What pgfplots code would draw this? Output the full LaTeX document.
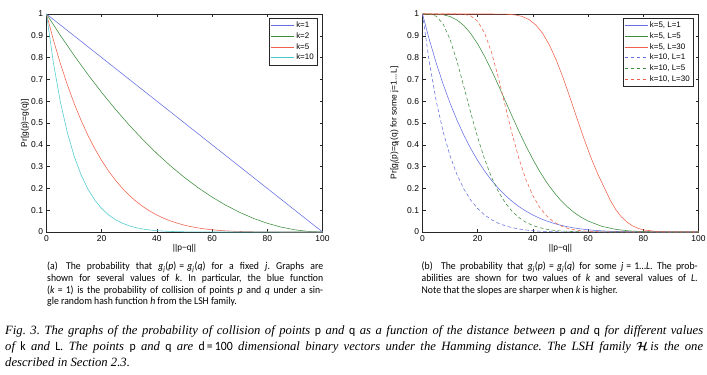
\documentclass[border=0pt]{standalone}
\usepackage{amsmath}
\usepackage{fontspec}
\usepackage{pgfplots}
\pgfplotsset{compat=1.18}
\setmainfont{Carlito}
\newfontfamily\capfont[FakeStretch=0.93]{Carlito}
\newfontfamily\axisfont{Liberation Sans}
\newfontfamily\figfont{Liberation Serif}
\definecolor{mblue}{RGB}{100,110,225}
\definecolor{mgreen}{RGB}{60,140,60}
\definecolor{mred}{RGB}{240,95,75}
\definecolor{mcyan}{RGB}{75,200,205}
\newcommand\up[1]{{\capfont\upshape #1}}
\newcommand\eq{\hspace{0.3em}=\hspace{0.3em}}
\pgfplotsset{
  mstyle/.style={
    scale only axis, width=276bp, height=218bp,
    xmin=0,xmax=100,ymin=0,ymax=1,
    xtick={0,20,40,60,80,100},
    ytick={0,0.1,0.2,0.3,0.4,0.5,0.6,0.7,0.8,0.9,1},
    tick align=inside, major tick length=3bp,
    axis line style={black!85, line width=0.5bp},
    every tick/.style={black!85, line width=0.5bp},
    tick label style={font=\axisfont\fontsize{8.5}{10}\selectfont},
    /pgf/number format/assume math mode=true,
    clip=false,
    every axis x label/.style={at={(axis description cs:0.5,0)},yshift=-16bp,anchor=center,font=\axisfont\fontsize{8.5}{10}\selectfont},
    legend style={draw=black!85, fill=white, line width=0.5bp,
      font=\axisfont\fontsize{8}{9}\selectfont, inner sep=1.5bp,
      at={(1,1)}, anchor=north east, xshift=-5bp, yshift=-4bp,
      row sep=-0.5bp},
    legend cell align=left,
    legend image code/.code={\draw[##1] (0bp,0bp) -- (23bp,0bp);},
    every axis plot/.append style={line width=0.55bp},
  }
}
\begin{document}
\begin{tikzpicture}
\useasboundingbox (0,0) rectangle (707bp,375bp);
% ---------- left panel ----------
\begin{axis}[mstyle, at={(46.5bp,143bp)}, anchor=south west,
  xlabel={||p\char"2212 q||},
  ylabel={Pr[g(p)=g(q)]},
  every axis y label/.style={at={(axis description cs:0,0.5)},xshift=-21.5bp,rotate=90,anchor=center,font=\axisfont\fontsize{8.5}{10}\selectfont},
]
\addplot[mblue] coordinates {(0,1) (100,0)};
\addplot[mgreen] coordinates {(0,1) (5,0.9025) (10,0.81) (15,0.7225) (20,0.64) (25,0.5625) (30,0.49) (35,0.4225) (40,0.36) (45,0.3025) (50,0.25) (55,0.2025) (60,0.16) (65,0.1225) (70,0.09) (75,0.0625) (80,0.04) (85,0.0225) (90,0.01) (95,0.0025) (100,0)};
\addplot[mred] coordinates {(0,1) (2.5,0.881096) (5,0.773781) (7.5,0.677187) (10,0.59049) (12.5,0.512909) (15,0.443705) (17.5,0.382181) (20,0.32768) (22.5,0.279581) (25,0.237305) (27.5,0.200304) (30,0.16807) (32.5,0.140126) (35,0.116029) (37.5,0.095367) (40,0.07776) (42.5,0.062855) (45,0.050328) (47.5,0.039884) (50,0.03125) (52.5,0.024181) (55,0.018453) (57.5,0.013866) (60,0.01024) (62.5,0.007416) (65,0.005252) (67.5,0.003626) (70,0.00243) (72.5,0.001573) (75,0.000977) (77.5,0.000577) (80,0.00032) (85,0.000076) (90,0.00001) (95,0) (100,0)};
\addplot[mcyan] coordinates {(0,1) (2.5,0.77633) (5,0.598737) (7.5,0.458582) (10,0.348678) (12.5,0.263076) (15,0.196874) (17.5,0.146062) (20,0.107374) (22.5,0.078166) (25,0.056314) (27.5,0.040122) (30,0.028248) (32.5,0.019635) (35,0.013463) (37.5,0.009095) (40,0.006047) (42.5,0.003951) (45,0.002533) (47.5,0.001591) (50,0.000977) (55,0.000341) (60,0.000105) (65,0.000028) (70,0.000006) (80,0) (100,0)};
\legend{k=1,k=2,k=5,k=10}
\end{axis}
% ---------- right panel ----------
\begin{axis}[mstyle, at={(422.5bp,143bp)}, anchor=south west,
  xlabel={||p\char"2212 q||},
  ylabel={Pr[g\textsubscript{j}(p)=g\textsubscript{j}(q) for some j=1...L]},
  every axis y label/.style={at={(axis description cs:0,0.5)},xshift=-27.5bp,rotate=90,anchor=center,font=\axisfont\fontsize{8.5}{10}\selectfont},
]
\addplot[mblue] coordinates {(0,1) (2.5,0.881096) (5,0.773781) (7.5,0.677187) (10,0.59049) (12.5,0.512909) (15,0.443705) (17.5,0.382181) (20,0.32768) (22.5,0.279581) (25,0.237305) (27.5,0.200304) (30,0.16807) (32.5,0.140126) (35,0.116029) (37.5,0.095367) (40,0.07776) (42.5,0.062855) (45,0.050328) (47.5,0.039884) (50,0.03125) (52.5,0.024181) (55,0.018453) (57.5,0.013866) (60,0.01024) (62.5,0.007416) (65,0.005252) (67.5,0.003626) (70,0.00243) (72.5,0.001573) (75,0.000977) (77.5,0.000577) (80,0.00032) (85,0.000076) (90,0.00001) (95,0) (100,0)};
\addplot[mgreen] coordinates {(0,1) (2.5,0.99998) (5,0.99941) (7.5,0.99649) (10,0.98848) (12.5,0.97258) (15,0.94672) (17.5,0.90999) (20,0.86263) (22.5,0.80594) (25,0.74192) (27.5,0.67294) (30,0.6015) (32.5,0.52992) (35,0.46025) (37.5,0.39415) (40,0.33286) (42.5,0.27717) (45,0.22755) (47.5,0.18413) (50,0.14679) (52.5,0.1152) (55,0.08892) (57.5,0.06744) (60,0.05016) (65,0.02599) (70,0.01209) (75,0.00488) (80,0.0016) (85,0.00038) (90,0.00005) (100,0)};
\addplot[mred] coordinates {(0,1) (23.5,0.99999) (28.5,0.9997) (31,0.99878) (33.5,0.996) (36,0.98921) (38.5,0.97528) (41,0.95055) (43.5,0.91182) (46,0.85737) (48.5,0.78755) (51,0.7051) (53.5,0.61422) (56,0.52018) (58.5,0.4281) (61,0.34225) (63.5,0.26565) (66,0.20012) (68,0.14613) (70,0.10325) (72,0.07039) (74,0.04613) (76,0.0289) (78,0.01717) (80,0.00955) (85,0.00228) (90,0.0003) (100,0)};
\addplot[mblue, dash pattern=on 3.5bp off 2.5bp] coordinates {(0,1) (2.5,0.77633) (5,0.598737) (7.5,0.458582) (10,0.348678) (12.5,0.263076) (15,0.196874) (17.5,0.146062) (20,0.107374) (22.5,0.078166) (25,0.056314) (27.5,0.040122) (30,0.028248) (32.5,0.019635) (35,0.013463) (37.5,0.009095) (40,0.006047) (42.5,0.003951) (45,0.002533) (47.5,0.001591) (50,0.000977) (55,0.000341) (60,0.000105) (65,0.000028) (70,0.000006) (80,0) (100,0)};
\addplot[mgreen, dash pattern=on 3.5bp off 2.5bp] coordinates {(0,1) (2.5,0.99944) (5,0.9896) (7.5,0.95348) (10,0.88279) (12.5,0.78267) (15,0.66587) (17.5,0.54592) (20,0.43331) (22.5,0.33432) (25,0.25159) (27.5,0.18514) (30,0.13348) (32.5,0.09439) (35,0.06553) (37.5,0.04465) (40,0.02987) (42.5,0.0196) (45,0.0126) (47.5,0.00793) (50,0.00487) (55,0.0017) (60,0.00052) (70,0) (100,0)};
\addplot[mred, dash pattern=on 3.5bp off 2.5bp] coordinates {(0,1) (10,1) (12.5,0.99989) (15,0.99861) (17.5,0.99123) (20,0.96687) (22.5,0.91298) (25,0.82428) (27.5,0.70727) (30,0.57669) (32.5,0.44839) (35,0.33411) (37.5,0.23974) (40,0.16636) (42.5,0.11199) (45,0.07327) (47.5,0.04664) (50,0.02888) (52.5,0.0174) (55,0.01018) (57.5,0.00574) (60,0.00315) (65,0.00083) (70,0.00018) (75,0) (100,0)};
\legend{{k=5, L=1},{k=5, L=5},{k=5, L=30},{k=10, L=1},{k=10, L=5},{k=10, L=30}}
\end{axis}
% ---------- sub-captions ----------
\node[anchor=base west, inner sep=0] at (47bp,105bp) {\parbox[t]{276bp}{\capfont\fontsize{10.5}{11.6}\selectfont\frenchspacing
\makebox[276bp][s]{(a)\hspace{0.8em}The probability that \textit{g}\textsubscript{\textit{j}}(\textit{p})\eq\textit{g}\textsubscript{\textit{j}}(\textit{q}) for a fixed \textit{j}. Graphs are}\par
\makebox[276bp][s]{shown for several values of \textit{k}. In particular, the blue function}\par
\makebox[276bp][s]{(\textit{k}\eq 1) is the probability of collision of points \textit{p} and \textit{q} under a sin-}\par
gle random hash function \textit{h} from the LSH family.}};
\node[anchor=base west, inner sep=0] at (421.5bp,105bp) {\parbox[t]{276bp}{\capfont\fontsize{10.5}{11.6}\selectfont\frenchspacing
\makebox[276bp][s]{(b)\hspace{0.8em}The probability that \textit{g}\textsubscript{\textit{j}}(\textit{p})\eq\textit{g}\textsubscript{\textit{j}}(\textit{q}) for some \textit{j}\eq 1\ldots\textit{L}. The prob-}\par
\makebox[276bp][s]{abilities are shown for two values of \textit{k} and several values of \textit{L}.}\par
Note that the slopes are sharper when \textit{k} is higher.}};
% ---------- figure caption ----------
\node[anchor=base west, inner sep=0] at (5bp,40.5bp) {\parbox[t]{698bp}{\figfont\itshape\fontsize{12.7}{16.3}\selectfont\frenchspacing
\makebox[698bp][s]{Fig. 3. The graphs of the probability of collision of points \up{p} and \up{q} as a function of the distance between \up{p} and \up{q} for different values}\par
\makebox[698bp][s]{of \up{k} and \up{L}. The points \up{p} and \up{q} are \up{d\,=\,100} dimensional binary vectors under the Hamming distance. The LSH family $\boldsymbol{\mathcal{H}}$\,is the one}\par
described in Section 2.3.}};
\end{tikzpicture}
\end{document}
